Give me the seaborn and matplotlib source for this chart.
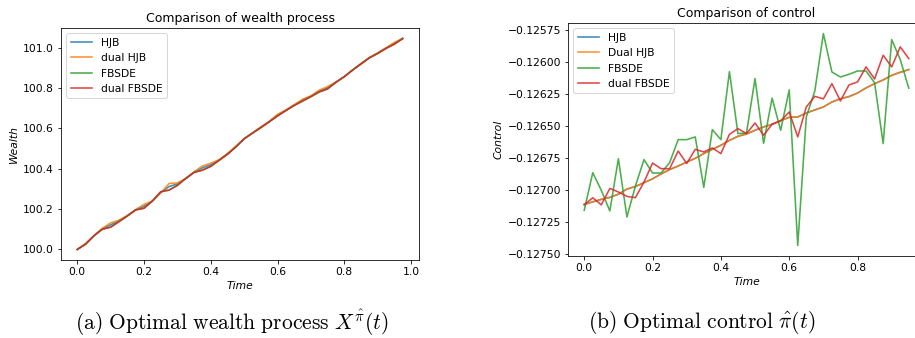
import numpy as np
import pandas as pd
import matplotlib
matplotlib.use("Agg")
import matplotlib.pyplot as plt
import seaborn as sns

plt.rcParams['mathtext.fontset'] = 'cm'

# ---------------- data ----------------
time_wealth = [0.000, 0.025, 0.050, 0.075, 0.100, 0.125, 0.150, 0.175, 0.200, 0.225,
               0.250, 0.275, 0.300, 0.325, 0.350, 0.375, 0.400, 0.425, 0.450, 0.475,
               0.500, 0.525, 0.550, 0.575, 0.600, 0.625, 0.650, 0.675, 0.700, 0.725,
               0.750, 0.775, 0.800, 0.825, 0.850, 0.875, 0.900, 0.925, 0.950, 0.975]

wealth_hjb = [100.000, 100.028, 100.068, 100.103, 100.122, 100.142, 100.167, 100.197, 100.214, 100.240,
              100.283, 100.312, 100.325, 100.352, 100.384, 100.405, 100.420, 100.444, 100.474, 100.510,
              100.549, 100.578, 100.606, 100.634, 100.666, 100.690, 100.716, 100.741, 100.760, 100.786,
              100.802, 100.830, 100.857, 100.890, 100.921, 100.951, 100.974, 100.999, 101.023, 101.046]

wealth_dual_hjb = [100.000, 100.030, 100.068, 100.105, 100.132, 100.145, 100.168, 100.198, 100.224, 100.240,
                   100.280, 100.327, 100.330, 100.352, 100.385, 100.414, 100.428, 100.445, 100.476, 100.512,
                   100.549, 100.578, 100.608, 100.635, 100.670, 100.692, 100.718, 100.745, 100.762, 100.790,
                   100.808, 100.830, 100.857, 100.890, 100.922, 100.952, 100.975, 101.000, 101.027, 101.046]

wealth_fbsde = [100.000, 100.026, 100.068, 100.100, 100.111, 100.138, 100.166, 100.196, 100.205, 100.240,
                100.286, 100.295, 100.318, 100.352, 100.382, 100.394, 100.412, 100.442, 100.472, 100.508,
                100.549, 100.577, 100.604, 100.633, 100.662, 100.689, 100.714, 100.736, 100.758, 100.781,
                100.797, 100.829, 100.857, 100.890, 100.920, 100.950, 100.972, 100.997, 101.018, 101.046]

wealth_dual_fbsde = [100.000, 100.026, 100.068, 100.100, 100.110, 100.138, 100.166, 100.196, 100.204, 100.240,
                     100.286, 100.294, 100.318, 100.352, 100.382, 100.393, 100.412, 100.442, 100.472, 100.508,
                     100.549, 100.577, 100.604, 100.633, 100.662, 100.689, 100.714, 100.736, 100.758, 100.781,
                     100.796, 100.829, 100.857, 100.890, 100.920, 100.950, 100.972, 100.997, 101.018, 101.046]

time_control = time_wealth[:39]

control_hjb = [-0.127110, -0.127090, -0.127070, -0.127055, -0.127030, -0.126990, -0.126970, -0.126940,
               -0.126910, -0.126872, -0.126838, -0.126810, -0.126779, -0.126750, -0.126713, -0.126680,
               -0.126648, -0.126610, -0.126578, -0.126560, -0.126531, -0.126505, -0.126484, -0.126455,
               -0.126430, -0.126427, -0.126396, -0.126372, -0.126349, -0.126310, -0.126285, -0.126268,
               -0.126240, -0.126200, -0.126167, -0.126138, -0.126102, -0.126078, -0.126057]

control_dual_hjb = [-0.127110, -0.127090, -0.127070, -0.127055, -0.127030, -0.126990, -0.126970, -0.126940,
                    -0.126910, -0.126872, -0.126838, -0.126810, -0.126779, -0.126750, -0.126713, -0.126680,
                    -0.126648, -0.126610, -0.126578, -0.126560, -0.126531, -0.126505, -0.126484, -0.126455,
                    -0.126430, -0.126427, -0.126396, -0.126372, -0.126349, -0.126310, -0.126285, -0.126268,
                    -0.126240, -0.126200, -0.126167, -0.126138, -0.126102, -0.126078, -0.126057]

control_fbsde = [-0.127156, -0.126862, -0.127000, -0.127161, -0.126753, -0.127208, -0.126965, -0.126760,
                 -0.126865, -0.126865, -0.126784, -0.126604, -0.126604, -0.126583, -0.126977, -0.126526,
                 -0.126604, -0.126073, -0.126557, -0.126552, -0.126127, -0.126633, -0.126280, -0.126531,
                 -0.126216, -0.127430, -0.126427, -0.126224, -0.125776, -0.126076, -0.126115, -0.126094,
                 -0.126068, -0.126068, -0.126160, -0.126635, -0.125823, -0.125978, -0.126202]

control_dual_fbsde = [-0.127112, -0.127058, -0.127113, -0.126985, -0.127013, -0.127047, -0.127057, -0.126935,
                      -0.126787, -0.126831, -0.126831, -0.126693, -0.126790, -0.126680, -0.126700, -0.126669,
                      -0.126713, -0.126563, -0.126518, -0.126557, -0.126474, -0.126570, -0.126484, -0.126458,
                      -0.126388, -0.126583, -0.126349, -0.126266, -0.126286, -0.126167, -0.126302, -0.126177,
                      -0.126154, -0.126036, -0.126130, -0.125945, -0.126036, -0.125880, -0.125971]

wealth_labels = ["HJB", "dual HJB", "FBSDE", "dual FBSDE"]
control_labels = ["HJB", "Dual HJB", "FBSDE", "dual FBSDE"]
colors = ["#1f77b4", "#ff7f0e", "#2ca02c", "#d62728"]

# ---------------- figure ----------------
W, H = 915, 338
fig = plt.figure(figsize=(W / 72, H / 72), dpi=72)

ax1 = fig.add_axes([61 / W, (H - 260) / H, 358 / W, 232 / H])
ax2 = fig.add_axes([568 / W, (H - 256) / H, 357 / W, 233 / H])

FS = 10.8

for vals, lab, c in zip([wealth_hjb, wealth_dual_hjb, wealth_fbsde, wealth_dual_fbsde],
                        wealth_labels, colors):
    sns.lineplot(x=time_wealth, y=vals, ax=ax1, label=lab, color=c, linewidth=1.6, alpha=0.85)

for vals, lab, c in zip([control_hjb, control_dual_hjb, control_fbsde, control_dual_fbsde],
                        control_labels, colors):
    sns.lineplot(x=time_control, y=vals, ax=ax2, label=lab, color=c, linewidth=1.6, alpha=0.85)

ax1.set_title("Comparison of wealth process", fontsize=12.5)
ax1.set_xlabel("Time", fontstyle="italic", fontsize=FS)
ax1.set_ylabel("Wealth", fontstyle="italic", fontsize=FS)
ax1.set_xticks([0.0, 0.2, 0.4, 0.6, 0.8, 1.0])
ax1.set_yticks([100.0, 100.2, 100.4, 100.6, 100.8, 101.0])
ax1.legend(loc="upper left", fontsize=FS)

ax2.set_title("Comparison of control", fontsize=12.5)
ax2.set_xlabel("Time", fontstyle="italic", fontsize=FS)
ax2.set_ylabel("Control", fontstyle="italic", fontsize=FS)
ax2.set_xticks([0.0, 0.2, 0.4, 0.6, 0.8])
ax2.set_yticks([-0.12750, -0.12725, -0.12700, -0.12675, -0.12650, -0.12625, -0.12600, -0.12575])
ax2.yaxis.set_major_formatter(matplotlib.ticker.FuncFormatter(lambda v, p: "\u2212%.5f" % abs(v)))
ax2.legend(loc="upper left", fontsize=FS)

for ax in (ax1, ax2):
    ax.tick_params(labelsize=FS)

fig.text(231.5 / W, (H - 323) / H,
         r"$\mathrm{(a)\ Optimal\ wealth\ process\ }X^{\hat{\pi}}(t)$",
         ha="center", va="center", fontsize=21.5)
fig.text(701.5 / W, (H - 323) / H,
         r"$\mathrm{(b)\ Optimal\ control\ }\hat{\pi}(t)$",
         ha="center", va="center", fontsize=21.5)

fig.savefig("out.png", dpi=72)
